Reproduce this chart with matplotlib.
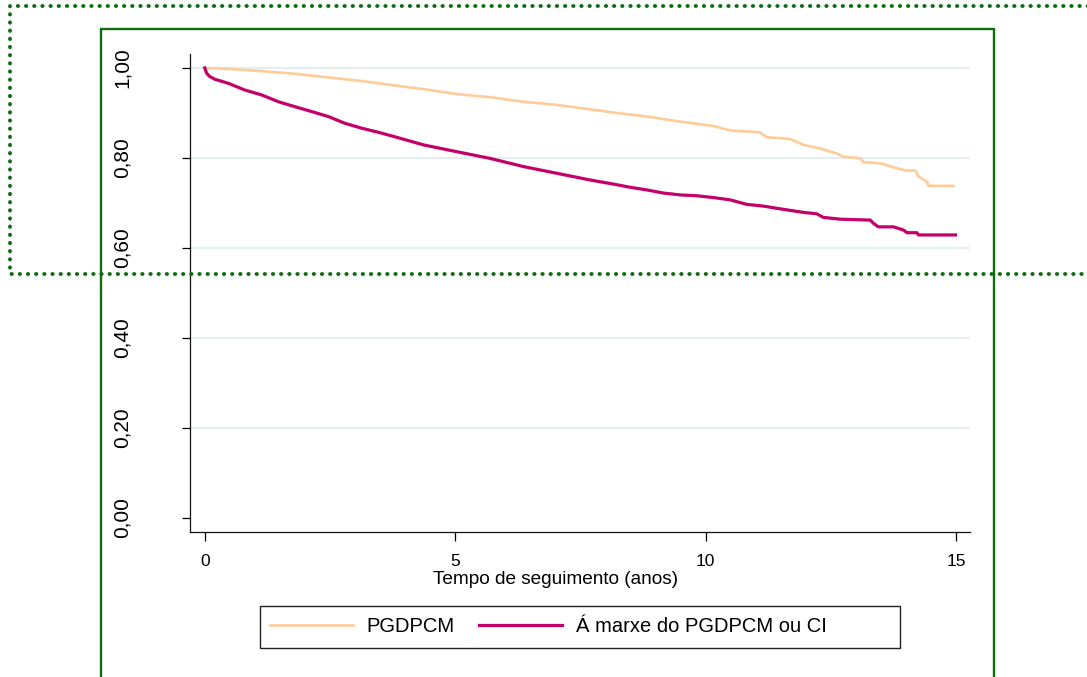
import matplotlib
matplotlib.use('Agg')
import matplotlib.pyplot as plt
from matplotlib.lines import Line2D
from matplotlib.patches import Rectangle

plt.rcParams['font.family'] = ['Liberation Sans', 'DejaVu Sans']

# survival curves (time in years, survival proportion)
pg_time = [0.0, 0.47, 1.14, 1.80, 2.47, 3.14, 3.80, 4.37, 5.03, 5.70, 6.36, 7.03, 7.70,
           8.16, 8.83, 9.49, 10.16, 10.49, 10.82, 11.09, 11.22, 11.49, 11.69, 11.96,
           12.29, 12.62, 12.75, 13.09, 13.15, 13.49, 13.82, 14.02, 14.19, 14.25, 14.42,
           14.45, 14.95]
pg_surv = [1.000, 0.998, 0.993, 0.987, 0.979, 0.971, 0.961, 0.953, 0.942, 0.935, 0.925,
           0.918, 0.908, 0.901, 0.892, 0.881, 0.871, 0.861, 0.859, 0.857, 0.846, 0.844,
           0.842, 0.829, 0.821, 0.810, 0.803, 0.799, 0.791, 0.788, 0.777, 0.772, 0.772,
           0.759, 0.747, 0.738, 0.738]

mx_time = [0.0, 0.04, 0.10, 0.20, 0.47, 0.80, 1.14, 1.47, 1.80, 2.14, 2.47, 2.80, 3.14,
           3.47, 3.80, 4.37, 5.03, 5.70, 6.36, 7.03, 7.70, 8.16, 8.49, 8.83, 9.16, 9.49,
           9.83, 10.16, 10.49, 10.82, 11.16, 11.49, 11.96, 12.22, 12.35, 12.69, 13.29,
           13.35, 13.45, 13.75, 13.95, 14.02, 14.22, 14.25, 14.99]
mx_surv = [1.000, 0.988, 0.981, 0.975, 0.966, 0.951, 0.940, 0.925, 0.914, 0.903, 0.892,
           0.877, 0.866, 0.857, 0.847, 0.829, 0.814, 0.799, 0.781, 0.766, 0.751, 0.742,
           0.735, 0.729, 0.722, 0.718, 0.716, 0.712, 0.707, 0.697, 0.693, 0.687, 0.679,
           0.676, 0.668, 0.664, 0.662, 0.655, 0.647, 0.647, 0.640, 0.634, 0.634, 0.629,
           0.629]

labels = ['PGDPCM', 'Á marxe do PGDPCM ou CI']
colors = ['#ffcc99', '#c4006a']
x_ticks = [0, 5, 10, 15]
y_ticks = [0.0, 0.2, 0.4, 0.6, 0.8, 1.0]
y_ticklabels = ['0,00', '0,20', '0,40', '0,60', '0,80', '1,00']

W, H = 1087.0, 677.0
fig = plt.figure(figsize=(10.87, 6.77), dpi=100, facecolor='white')
ax = fig.add_axes([0.1748, 0.2142, 0.7176, 0.7060])

ax.plot(pg_time, pg_surv, color=colors[0], linewidth=1.9, label=labels[0], zorder=3)
ax.plot(mx_time, mx_surv, color=colors[1], linewidth=2.3, label=labels[1], zorder=4)

ax.set_xlim(-0.294, 15.28)
ax.set_ylim(-0.031, 1.031)
ax.set_xticks(x_ticks)
ax.set_yticks(y_ticks)
ax.set_yticklabels(y_ticklabels, rotation=90, va='center')

for side in ['top', 'right']:
    ax.spines[side].set_visible(False)
for side in ['left', 'bottom']:
    ax.spines[side].set_linewidth(0.9)
    ax.spines[side].set_color('#111111')

ax.tick_params(axis='y', direction='out', length=6, width=0.9, labelsize=15, pad=36)
ax.tick_params(axis='x', direction='out', length=6.5, width=0.9, labelsize=12.5, pad=9)

ax.yaxis.grid(True, color='#e6eef1', linewidth=1.6, zorder=0)
ax.set_axisbelow(True)
ax.yaxis.get_gridlines()[0].set_visible(False)

ax.set_xlabel('Tempo de seguimento (anos)', fontsize=13.7, va='center')
ax.xaxis.set_label_coords(0.469, -0.100)

# legend: Stata-like wide box drawn separately, entries placed inside it
fig.add_artist(Rectangle((260 / W, 1 - 648 / H), 640 / W, 42 / H,
                         transform=fig.transFigure, facecolor='white',
                         edgecolor='#222222', linewidth=1.0, zorder=5))
leg = fig.legend(loc='center left', bbox_to_anchor=(270 / W, 1 - 627 / H), ncol=2,
                 fontsize=14.5, frameon=False, borderpad=0,
                 handlelength=4.1, handletextpad=0.7, columnspacing=1.2,
                 borderaxespad=0)
leg.set_zorder(6)

# outer frames
green = '#0d6e0d'
fig.add_artist(Line2D([101 / W, 101 / W, 994 / W, 994 / W],
                      [-0.05, 1 - 29 / H, 1 - 29 / H, -0.05],
                      transform=fig.transFigure, color=green, linewidth=1.7,
                      solid_joinstyle='miter', zorder=10))
fig.add_artist(Line2D([1.05, 10 / W, 10 / W, 1.05],
                      [1 - 6 / H, 1 - 6 / H, 1 - 274 / H, 1 - 274 / H],
                      transform=fig.transFigure, color=green, linewidth=2.8,
                      linestyle=(0, (0.1, 2.0)), dash_capstyle='round', zorder=11))

plt.savefig('out.png', dpi=100)
